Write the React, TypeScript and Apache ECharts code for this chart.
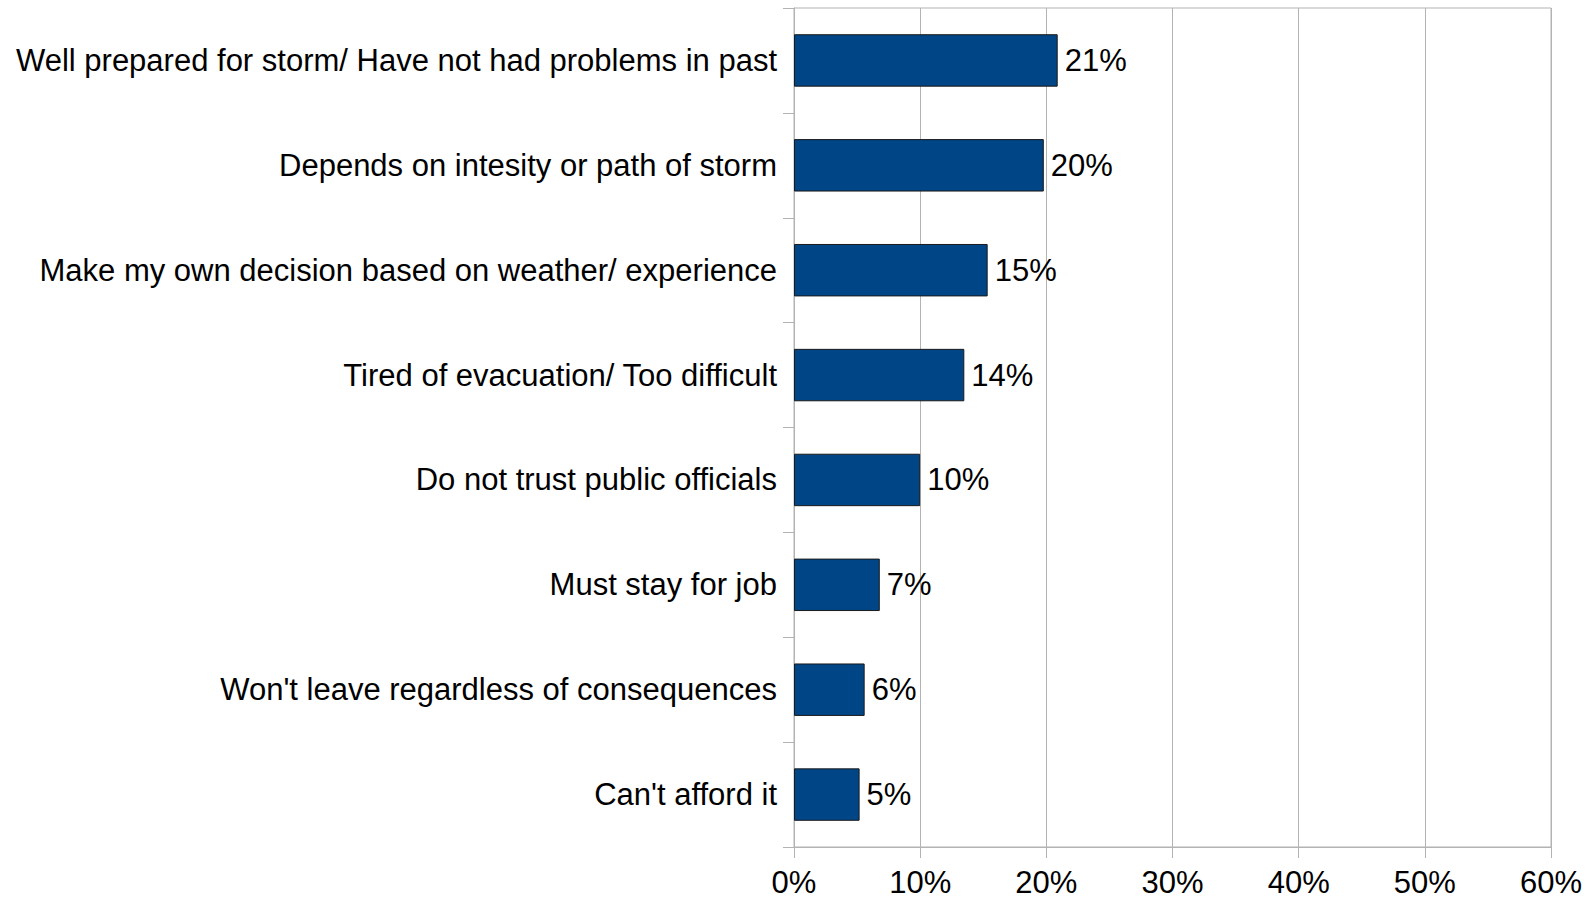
import React, { useEffect, useRef } from "react";
import * as echarts from "echarts";

const categories = [
  "Well prepared for storm/ Have not had problems in past",
  "Depends on intesity or path of storm",
  "Make my own decision based on weather/ experience",
  "Tired of evacuation/ Too difficult",
  "Do not trust public officials",
  "Must stay for job",
  "Won't leave regardless of consequences",
  "Can't afford it",
];

const values = [20.9, 19.8, 15.35, 13.5, 10.0, 6.8, 5.6, 5.2];

const xTicks = [0, 10, 20, 30, 40, 50, 60];

const FONT = "'Liberation Sans', Arial, Helvetica, sans-serif";

export default function App() {
  const ref = useRef<HTMLDivElement>(null);

  useEffect(() => {
    document.body.style.margin = "0";
    if (!ref.current) return;
    const chart = echarts.init(ref.current, null, { renderer: "svg" });
    chart.setOption({
      animation: false,
      backgroundColor: "#ffffff",
      textStyle: { fontFamily: FONT },
      grid: {
        left: 794,
        right: 36,
        top: 8,
        bottom: 53,
        containLabel: false,
        show: true,
        borderColor: "#b3b3b3",
        borderWidth: 1,
      },
      xAxis: {
        type: "value",
        min: xTicks[0],
        max: xTicks[xTicks.length - 1],
        interval: 10,
        axisLine: { show: true, lineStyle: { color: "#b3b3b3", width: 1 } },
        axisTick: { show: true, length: 11, lineStyle: { color: "#b3b3b3" } },
        splitLine: { show: true, lineStyle: { color: "#b3b3b3", width: 1 } },
        axisLabel: {
          formatter: (v: number) => `${v}%`,
          fontSize: 31,
          lineHeight: 24,
          color: "#000000",
          fontFamily: FONT,
          margin: 23,
        },
      },
      yAxis: {
        type: "category",
        data: categories,
        inverse: true,
        axisLine: { show: true, lineStyle: { color: "#b3b3b3", width: 1 } },
        axisTick: { show: true, length: 11, alignWithLabel: false, lineStyle: { color: "#b3b3b3" } },
        splitLine: { show: false },
        axisLabel: {
          fontSize: 31,
          color: "#000000",
          fontFamily: FONT,
          margin: 17,
        },
      },
      series: [
        {
          type: "bar",
          data: values,
          barWidth: "50%",
          itemStyle: { color: "#004586", borderColor: "#1a1a1a", borderWidth: 1 },
          label: {
            show: true,
            position: "right",
            distance: 7,
            formatter: (p: any) => `${Math.round(p.value)}%`,
            fontSize: 31,
            color: "#000000",
            fontFamily: FONT,
          },
        },
      ],
    });
    return () => chart.dispose();
  }, []);

  return <div ref={ref} style={{ width: 1587, height: 900 }} />;
}
